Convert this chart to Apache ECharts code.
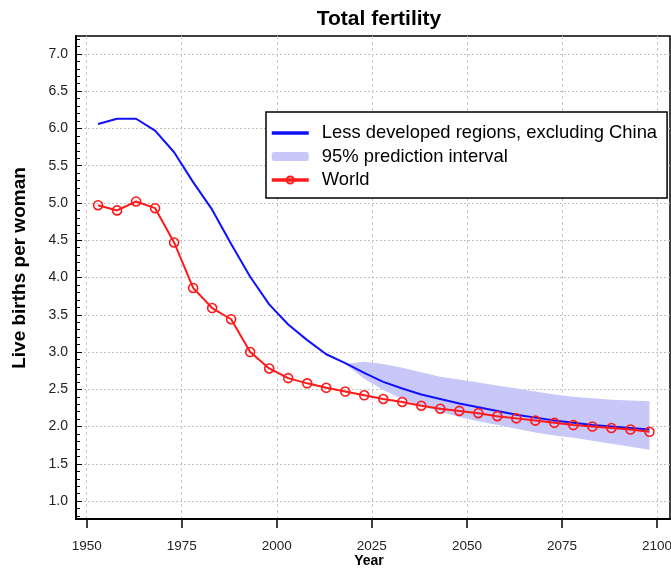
<!DOCTYPE html>
<html><head><meta charset="utf-8">
<script src="https://cdn.jsdelivr.net/npm/echarts@6/dist/echarts.min.js"></script>
<style>html,body{margin:0;padding:0;background:#fff}#c{width:671px;height:569px}</style>
</head><body><div id="c"></div>
<script>
const years = [1953,1958,1963,1968,1973,1978,1983,1988,1993,1998,2003,2008,2013,2018,2023,2028,2033,2038,2043,2048,2053,2058,2063,2068,2073,2078,2083,2088,2093,2098];
const worldTFR = [4.97,4.90,5.02,4.93,4.47,3.86,3.59,3.44,3.00,2.78,2.65,2.58,2.52,2.47,2.42,2.37,2.33,2.28,2.24,2.21,2.18,2.14,2.11,2.08,2.05,2.02,2.00,1.98,1.96,1.93];
const lessDevTFR = [6.06,6.13,6.13,5.97,5.68,5.28,4.91,4.45,4.01,3.64,3.37,3.16,2.97,2.85,2.72,2.60,2.51,2.43,2.37,2.31,2.26,2.21,2.16,2.12,2.08,2.05,2.02,2.00,1.98,1.96];
const bandYears = [2018,2023,2028,2033,2038,2043,2048,2053,2058,2063,2068,2073,2078,2083,2088,2093,2098];
const bandUpper = [2.84,2.87,2.84,2.79,2.73,2.67,2.63,2.59,2.55,2.51,2.47,2.43,2.40,2.38,2.36,2.35,2.34];
const bandLower = [2.84,2.64,2.49,2.37,2.28,2.20,2.13,2.07,2.02,1.97,1.92,1.88,1.85,1.81,1.77,1.73,1.69];
const xTickValues = [1950,1975,2000,2025,2050,2075,2100];
const yTickValues = [1.0,1.5,2.0,2.5,3.0,3.5,4.0,4.5,5.0,5.5,6.0,6.5,7.0];
const seriesNames = ['Less developed regions, excluding China','95% prediction interval','World'];

const minorTickValues = [];
for (let i = 8; i <= 72; i++) minorTickValues.push(i / 10);

const FONT = 'Liberation Sans, Arial, Helvetica, sans-serif';
const zip = (a, b) => a.map((v, i) => [v, b[i]]);
const bandData = bandYears.map((y, i) => [y, bandLower[i], bandUpper[i]]);

const chart = echarts.init(document.getElementById('c'), null, {renderer: 'canvas'});
chart.setOption({
  animation: false,
  backgroundColor: '#fff',
  title: {
    text: 'Total fertility', left: 374, top: 4, textAlign: 'center',
    textStyle: {fontSize: 21, fontWeight: 'bold', color: '#000', fontFamily: FONT}
  },
  grid: {left: 76, right: 1, top: 36, bottom: 50, show: true, borderColor: '#000', borderWidth: 1.5,
         containLabel: false, outerBoundsMode: 'none'},
  legend: {
    left: 266, top: 112, orient: 'vertical',
    data: [
      {name: seriesNames[0], icon: 'path://M0,0L37,0L37,3.5L0,3.5Z'},
      {name: seriesNames[1], icon: 'roundRect'},
      {name: seriesNames[2]}
    ],
    itemWidth: 37, itemHeight: 9, itemGap: 5.5,
    padding: [12, 10, 9, 4],
    borderColor: '#000', borderWidth: 1.5, backgroundColor: '#fff',
    lineStyle: {width: 3.5},
    textStyle: {fontSize: 18.4, color: '#000', fontFamily: FONT, padding: [0, 0, 0, 8]}
  },
  xAxis: {
    type: 'value', min: 1947.2, max: 2103.4,
    name: 'Year', nameLocation: 'middle', nameGap: 35, nameMoveOverlap: false,
    nameTextStyle: {fontSize: 14, fontWeight: 'bold', color: '#000', fontFamily: FONT, padding: [0, 8, 0, 0]},
    axisLine: {show: true, lineStyle: {color: '#000', width: 2}},
    axisTick: {show: true, customValues: xTickValues, inside: false, length: 9, lineStyle: {color: '#000', width: 1.5}},
    axisLabel: {customValues: xTickValues, formatter: v => String(v), fontSize: 13.5, margin: 20, color: '#222', fontFamily: FONT},
    splitLine: {show: true, lineStyle: {color: '#c8c8c8', type: [3, 3], width: 1}}
  },
  yAxis: [{
    type: 'value', min: 0.76, max: 7.24, position: 'left',
    name: 'Live births per woman', nameLocation: 'middle', nameGap: 47, nameMoveOverlap: false,
    nameTextStyle: {fontSize: 19, fontWeight: 'bold', color: '#000', fontFamily: FONT, padding: [0, 0, 0, 19]},
    axisLine: {show: true, lineStyle: {color: '#000', width: 2}},
    axisTick: {show: true, customValues: yTickValues, inside: true, length: 8, lineStyle: {color: '#000', width: 1, type: [2, 2]}},
    axisLabel: {customValues: yTickValues, formatter: v => v.toFixed(1), fontSize: 14, margin: 8, color: '#222', fontFamily: FONT},
    splitLine: {show: true, lineStyle: {color: '#c0c0c0', type: [2, 2], width: 1}}
  }, {
    type: 'value', min: 0.76, max: 7.24, position: 'left', offset: 0,
    axisLine: {show: false},
    axisTick: {show: true, customValues: minorTickValues, inside: true, length: 4, lineStyle: {color: '#000', width: 1}},
    axisLabel: {show: false},
    splitLine: {show: false}
  }],
  series: [
    {
      type: 'custom', name: seriesNames[1], yAxisIndex: 0,
      data: bandData, silent: true, z: 1,
      itemStyle: {color: '#c8c8f8'},
      encode: {x: 0, y: [1, 2]},
      renderItem: function (params, api) {
        if (params.dataIndex !== 0) return null;
        const upper = bandData.map(d => api.coord([d[0], d[2]]));
        const lower = bandData.map(d => api.coord([d[0], d[1]])).reverse();
        return {
          type: 'polygon',
          shape: {points: upper.concat(lower)},
          style: {fill: '#c8c8f8', stroke: null}
        };
      }
    },
    {
      type: 'line', name: seriesNames[0], yAxisIndex: 0,
      data: zip(years, lessDevTFR), symbol: 'none',
      itemStyle: {color: '#1010ff'},
      lineStyle: {color: '#1010ff', width: 2}, z: 3
    },
    {
      type: 'line', name: seriesNames[2], yAxisIndex: 0,
      data: zip(years, worldTFR), symbol: 'circle', symbolSize: 9,
      itemStyle: {color: 'rgba(255,255,255,0)', borderColor: '#ff1a1a', borderWidth: 1.6},
      lineStyle: {color: '#ff1a1a', width: 2}, z: 4
    }
  ]
});
</script>
</body></html>
